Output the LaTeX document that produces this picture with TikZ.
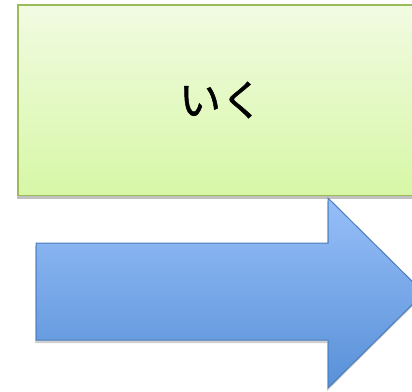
\documentclass[tikz,border=0pt]{standalone}
\usepackage{fontspec}
\newfontfamily\jpfont[FakeBold=1.2]{Noto Sans CJK JP}
\usetikzlibrary{shadows}
\definecolor{boxtop}{HTML}{F1FBE2}
\definecolor{boxbot}{HTML}{D7F7A6}
\definecolor{boxline}{HTML}{9BBB59}
\definecolor{arrtop}{HTML}{97BFF8}
\definecolor{arrbot}{HTML}{5890D8}
\definecolor{arrline}{HTML}{4A7EBB}
\tikzset{
  greenbox/.style={draw=boxline, line width=1.8pt, top color=boxtop, bottom color=boxbot,
    drop shadow={shadow xshift=-1.5pt, shadow yshift=-3.5pt, opacity=0.4, fill=black!60}},
  bluearrow/.style={draw=arrline, line width=1pt, top color=arrtop, bottom color=arrbot,
    drop shadow={shadow xshift=-1pt, shadow yshift=-3pt, opacity=0.3, fill=black!60}},
  label/.style={font=\jpfont\fontsize{42}{50}\selectfont, text=black}
}
\begin{document}
\begin{tikzpicture}[x=1pt,y=-1pt]
\useasboundingbox (0,0) rectangle (412,391);
\clip (0,0) rectangle (412,391);
\fill[white] (0,0) rectangle (412,391);
\path[greenbox] (18,5) rectangle (426,195.5);
\node[label] (txt) at (221,100) {いく};
\path[bluearrow] (36,243) -- (328,243) -- (328,198) -- (424,293) -- (328,388) -- (328,340) -- (36,340) -- cycle;
\end{tikzpicture}
\end{document}
